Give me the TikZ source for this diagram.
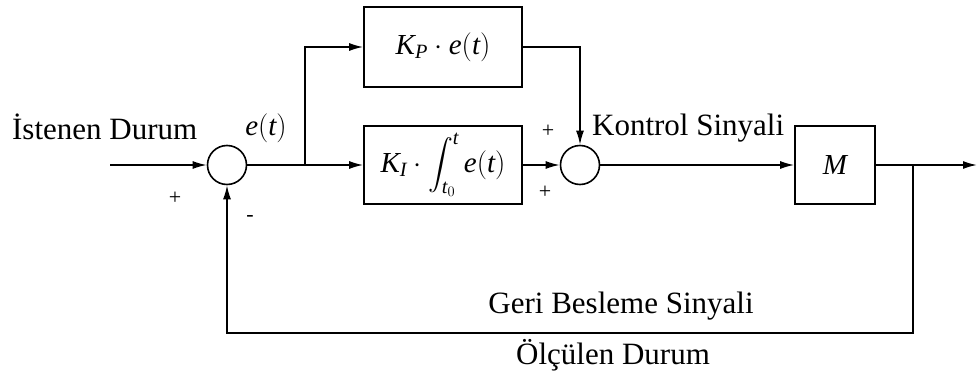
\RequirePackage{fix-cm}
\documentclass[tikz,border=0pt]{standalone}
\usepackage{amsmath}
\usepackage{exscale}
\usepackage{fontspec}
\setmainfont{Liberation Serif}
\usetikzlibrary{arrows.meta,positioning}
\newcommand{\tvar}[1]{\textit{#1}}

\begin{document}
\begin{tikzpicture}[
  x=1pt, y=-1pt,
  line width=1.6pt,
  font=\fontsize{31}{34}\selectfont,
  blk/.style={draw,minimum width=158pt,minimum height=78pt,inner sep=0pt,font=\fontsize{29}{31}\selectfont},
  sumc/.style={draw,circle,minimum size=39pt,inner sep=0pt},
  sig/.style={-{Latex[length=14pt,width=8pt]}},
  sgn/.style={font=\fontsize{22}{24}\selectfont,inner sep=0pt}
]
\useasboundingbox (0,0) rectangle (978,383);

% blocks and summing points
\node[sumc] (s1) at (227,165) {};
\node[blk,minimum height=80pt] (kp) at (443,47) {$\tvar{K}_{\tvar{P}}\cdot \tvar{e}(\tvar{t})$};
\node[blk] (ki) at (443,165) {$\tvar{K}_{\tvar{I}}\cdot\displaystyle\int_{\tvar{t}_0}^{\tvar{t}} \tvar{e}(\tvar{t})$};
\node[sumc] (s2) at (580,165) {};
\node[blk,minimum width=80pt] (m) at (835,165) {$\tvar{M}$};

\coordinate (in) at (110,165);
\coordinate (out) at (977,165);
\coordinate (b1) at (305,165);
\coordinate (b2) at (913,165);
\coordinate (fb) at (913,333);

% signals
\draw[sig] (in) -- (s1);
\draw (s1) -- (b1);
\draw[sig] (b1) -- (ki);
\draw[sig] (b1) |- (kp);
\draw[sig] (kp) -| (s2);
\draw[sig] (ki) -- (s2);
\draw[sig] (s2) -- (m);
\draw[sig] (m) -- (out);
\draw[sig] (b2) -- (fb) -| (s1);

% labels
\node[anchor=west] (istenen) at (8,127) {İstenen Durum};
\node[font=\fontsize{29}{31}\selectfont] (et) at (266,128) {$\tvar{e}(\tvar{t})$};
\node[anchor=west] (kontrol) at (588,128) {Kontrol Sinyali};
\node (geri) at (621,306) {Geri Besleme Sinyali};
\node (olcul) at (613,355) {Ölçülen Durum};

\node[sgn] (p1) at (175,198) {+};
\node[sgn] (m1) at (250,218) {-};
\node[sgn] (p2) at (548,131) {+};
\node[sgn] (p3) at (545,192) {+};
\end{tikzpicture}
\end{document}
